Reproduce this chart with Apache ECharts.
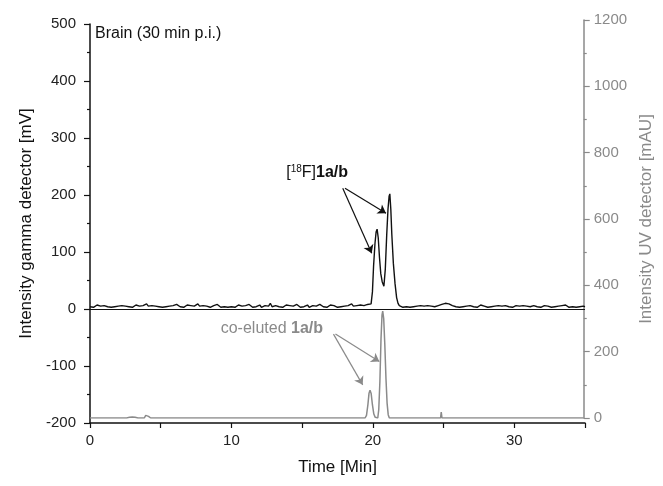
<!DOCTYPE html>
<html>
<head>
<meta charset="utf-8">
<script src="https://cdn.jsdelivr.net/npm/echarts@6/dist/echarts.min.js"></script>
<style>
html,body{margin:0;padding:0;background:#fff;}
#c{width:663px;height:486px;}
</style>
</head>
<body>
<div id="c"></div>
<script>
// Gamma detector baseline (mV), read every 0.125 min from 0 to 19.875 min
var gammaNoiseStart = 0, gammaNoiseStep = 0.125;
var gammaNoisePre = [
4,6,3,5,7,4,5,3,6,8,4,5,3,6,4,7,5,3,6,4,5,8,4,6,3,5,7,4,5,3,6,4,9,5,3,6,4,5,7,4,
5,3,6,4,7,5,4,6,3,8,5,4,6,3,5,7,4,6,3,5,4,9,5,3,6,4,5,7,3,5,6,4,8,5,3,6,4,5,3,6,
4,6,3,5,7,4,5,3,6,4,8,5,3,6,4,5,7,3,5,6,4,5,10,4,3,6,5,4,6,3,5,7,4,6,3,5,4,8,5,3,
6,4,5,7,3,5,6,4,5,3,8,5,4,6,3,5,7,4,6,5,3,6,4,7,5,4,6,3,9,5,4,6,5,7,4,6,5,8,7,9
];
// Gamma peaks [time (min), mV]
var gammaPeaks = [
[19.97,30],[20.05,75],[20.15,115],[20.23,135],[20.3,140],[20.38,125],[20.47,90],[20.56,62],[20.66,48],[20.78,40],[20.88,70],[20.98,130],
[21.07,175],[21.15,198],[21.2,202],[21.27,175],[21.34,131],[21.45,80],[21.57,44],[21.68,20],[21.78,10],[21.87,6]
];
// Gamma baseline (mV), every 0.125 min from 22 to 35 min
var gammaNoisePostStart = 22;
var gammaNoisePost = [
5,3,6,4,5,3,6,4,7,5,3,6,4,5,3,6,4,5,7,4,5,6,4,8,7,10,11,9,8,6,5,4,6,3,5,4,6,5,3,6,
5,4,6,3,5,7,4,5,6,3,5,4,7,5,3,6,4,5,3,6,5,4,7,3,5,6,4,5,3,6,4,5,7,4,3,6,5,4,6,3,
5,6,4,5,7,3,5,4,6,5,3,6,4,7,5,3,5,4,6,3,5,4,6,5,4
];
// UV detector trace [time (min), mAU]
var uvData = [
[0,0],[2.6,0],[2.8,2],[3.0,3],[3.2,2],[3.4,0],[3.85,0],[3.95,8],[4.05,10],[4.15,5],[4.3,0],
[19.5,0],[19.6,8],[19.7,40],[19.78,75],[19.85,84],[19.93,74],[20.02,40],[20.12,12],[20.22,2],[20.3,0],
[20.4,0],[20.47,25],[20.55,110],[20.63,240],[20.7,310],[20.75,322],[20.82,300],[20.9,220],[20.98,120],[21.06,45],[21.14,10],[21.22,0],
[24.85,0],[24.9,18],[24.95,0],[35,0]
];
// Annotation arrows: [start, end] in data units
var gammaArrows = [[[17.87,212],[19.92,98]],[[18.03,212],[20.93,168]]];
var uvArrows = [[[17.26,253],[19.33,100]],[[17.4,253],[20.51,170]]];
var xTicks = [0,35,5];
var leftTicks = [-200,500,100];
var rightTicks = [0,1200,200];

var gammaData = []
  .concat(gammaNoisePre.map(function(v,i){return [gammaNoiseStart + i*gammaNoiseStep, v];}))
  .concat(gammaPeaks)
  .concat(gammaNoisePost.map(function(v,i){return [gammaNoisePostStart + i*gammaNoiseStep, v];}));

var FONT = '"Liberation Sans", Arial, sans-serif';
var GRAY = '#8a8a8a';

function arrowLines(arr){
  return arr.map(function(a){
    return [{coord:a[0], symbol:'none'},{coord:a[1], symbol:'arrow'}];
  });
}

var chart = echarts.init(document.getElementById('c'), null, {renderer:'canvas'});
var option = {
  animation:false,
  backgroundColor:'#fff',
  textStyle:{fontFamily:FONT},
  grid:[
    {left:90, right:78, top:24, bottom:63},
    {left:90, right:78, top:20, bottom:68}
  ],
  xAxis:[
    {gridIndex:0, type:'value', min:xTicks[0], max:xTicks[1], interval:xTicks[2],
     name:'Time [Min]', nameLocation:'middle', nameGap:36,
     nameTextStyle:{fontSize:17, color:'#111', fontFamily:FONT},
     axisLine:{show:true, onZero:false, lineStyle:{color:'#111', width:1.5}},
     axisTick:{show:true, inside:false, length:5, lineStyle:{color:'#111', width:1.2}},
     axisLabel:{fontSize:15, color:'#222', margin:10, fontFamily:FONT,
       formatter:function(v){return (v%10===0)? String(v):'';}},
     splitLine:{show:false}},
    {gridIndex:1, type:'value', min:xTicks[0], max:xTicks[1], show:false}
  ],
  yAxis:[
    {gridIndex:0, type:'value', min:leftTicks[0], max:leftTicks[1], interval:leftTicks[2],
     name:'Intensity gamma detector [mV]', nameLocation:'middle', nameGap:55, nameRotate:90,
     nameTextStyle:{fontSize:17, color:'#111', fontFamily:FONT},
     axisLine:{show:true, onZero:false, lineStyle:{color:'#111', width:1.5}},
     axisTick:{show:true, inside:false, length:6, lineStyle:{color:'#111', width:1.2}},
     minorTick:{show:true, splitNumber:2, length:3, lineStyle:{color:'#111', width:1.2}},
     axisLabel:{fontSize:15, color:'#222', margin:14, fontFamily:FONT},
     splitLine:{show:false}},
    {gridIndex:1, type:'value', position:'right', min:rightTicks[0], max:rightTicks[1], interval:rightTicks[2],
     name:'Intensity UV detector [mAU]', nameLocation:'middle', nameGap:52, nameRotate:90,
     nameTextStyle:{fontSize:17, color:GRAY, fontFamily:FONT},
     axisLine:{show:true, onZero:false, lineStyle:{color:GRAY, width:1.5}},
     axisTick:{show:true, inside:false, length:6, lineStyle:{color:GRAY, width:1.2}},
     minorTick:{show:true, splitNumber:2, length:3, lineStyle:{color:GRAY, width:1.2}},
     axisLabel:{fontSize:15, color:GRAY, margin:10, fontFamily:FONT,
       formatter:function(v){return String(v);}},
     splitLine:{show:false}}
  ],
  series:[
    {type:'line', name:'UV', xAxisIndex:1, yAxisIndex:1, data:uvData, showSymbol:false, symbol:'none',
     lineStyle:{color:GRAY, width:1.5}, z:2,
     markLine:{silent:true, animation:false, symbol:['none','arrow'], symbolSize:8,
       lineStyle:{color:GRAY, width:1.2, type:'solid'}, label:{show:false},
       data:arrowLines(uvArrows)}},
    {type:'line', name:'Gamma', xAxisIndex:0, yAxisIndex:0, data:gammaData, showSymbol:false, symbol:'none',
     lineStyle:{color:'#111', width:1.4}, z:3,
     markLine:{silent:true, animation:false, symbol:['none','none'], symbolSize:8,
       lineStyle:{color:'#111', width:1.2, type:'solid'}, label:{show:false},
       data:[[{coord:[0,0], symbol:'none'},{coord:[35,0], symbol:'none'}]].concat(arrowLines(gammaArrows))}}
  ],
  graphic:[
    {type:'text', left:95, top:26, style:{text:'Brain (30 min p.i.)', font:'16px '+FONT, fill:'#111'}},
    {type:'text', x:348, y:173, style:{
      text:'[{sup|18}F]{b|1a/b}', textAlign:'right', textVerticalAlign:'middle',
      font:'16px '+FONT, fill:'#111',
      rich:{sup:{fontSize:10, fontFamily:FONT, fill:'#111', padding:[0,0,8,0]},
            b:{fontSize:16, fontWeight:'bold', fontFamily:FONT, fill:'#111'}}}},
    {type:'text', x:323, y:329, style:{
      text:'co-eluted {b|1a/b}', textAlign:'right', textVerticalAlign:'middle',
      font:'16px '+FONT, fill:GRAY,
      rich:{b:{fontSize:16, fontWeight:'bold', fontFamily:FONT, fill:GRAY}}}}
  ]
};
chart.setOption(option);
</script>
</body>
</html>
